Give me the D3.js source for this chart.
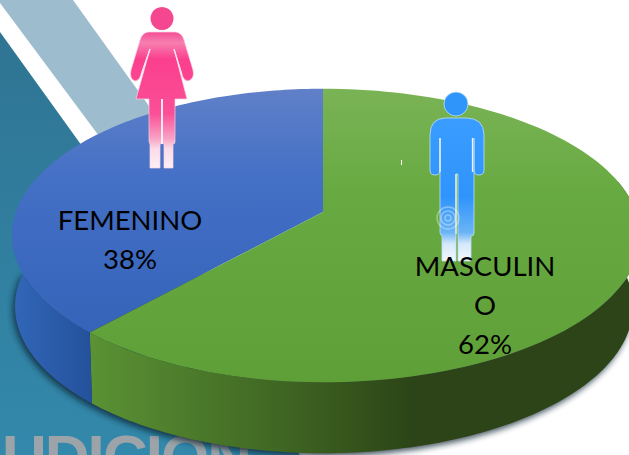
<!DOCTYPE html>
<html><head><meta charset="utf-8">
<script src="https://cdn.jsdelivr.net/npm/d3@7"></script>
<style>html,body{margin:0;padding:0;background:#fff;overflow:hidden}svg{display:block}</style>
</head><body><svg id="c" width="629" height="455"></svg>
<script>
const categories = ["FEMENINO", "MASCULINO"];
const shares = [38, 62];
const labelLines = [["FEMENINO","38%"],["MASCULIN","O","62%"]];

const svg=d3.select("#c");
const defs=svg.append("defs");
function grad(id,stops,x1,y1,x2,y2,user){
  const g=defs.append("linearGradient").attr("id",id).attr("x1",x1).attr("y1",y1).attr("x2",x2).attr("y2",y2);
  if(user) g.attr("gradientUnits","userSpaceOnUse");
  stops.forEach(s=>g.append("stop").attr("offset",s[0]).attr("stop-color",s[1]));
}
grad("bg",[[0,"#2f7493"],[1,"#3389ab"]],0,0,0,1);
grad("blueTop",[[0,"#6080c8"],[0.35,"#4470c6"],[1,"#3463b8"]],0,89,0,340,true);
grad("greenTop",[[0,"#7ab355"],[0.35,"#68aa42"],[1,"#5f9f37"]],0,89,0,382,true);
grad("blueSide",[[0,"#3166b8"],[1,"#24509a"]],15,0,95,0,true);
grad("greenSide",[[0,"#5a9234"],[0.4,"#3c6020"],[0.6,"#2c4417"],[1,"#2c4417"]],91,0,629,0,true);
grad("pink",[[0,"#f54d94"],[0.08,"#f77fb0"],[0.2,"#fb3f8e"],[0.6,"#fb4f97"],[0.78,"#f8a0c4"],[0.86,"#fbdbe8"],[1,"#fdf0f5"]],0,0,0,1);
grad("blueMan",[[0,"#3a9cff"],[0.55,"#2f94fb"],[0.8,"#6ab4f5"],[0.88,"#d4e8fb"],[1,"#f4f9fe"]],0,0,0,1);
defs.append("filter").attr("id","blur").attr("x","-10%").attr("y","-10%").attr("width","120%").attr("height","120%")
  .append("feGaussianBlur").attr("stdDeviation",3);

// Background panel: teal field, white and pale bands
svg.append("polygon").attr("points","0,0 73,0 149,106 250,455 0,455").attr("fill","#9dbccd");
svg.append("polygon").attr("points","0,3 99,136 140,200 0,200").attr("fill","#fff");
svg.append("polygon").attr("points","0,32 82,146 300,455 0,455").attr("fill","url(#bg)");
svg.append("text").attr("x",2).attr("y",478).attr("font-family","Liberation Sans")
  .attr("font-size",62).attr("font-weight",700).attr("fill","#a9a8a9").attr("opacity",0.9).attr("textLength",250).text("UDICIÓN");

// Perspective projection of a unit disc: the pie centre sits above the ellipse centre
const k=-0.16;
const project=(bl,br,a,cx,cy)=>t0=>{
  const t=t0+0.03*Math.sin(t0);
  const u=Math.sin(t),v=-Math.cos(t),d=1+k*v;
  return [cx+(u<0?bl:br)*u/d, cy+a*v/d];
};
const upper=project(307,313,143,323,212), lower=project(304,306,143,323,283);
const turn=2*Math.PI;
const pie=d3.pie().sort(null).startAngle(-turn*shares[0]/100).endAngle(turn-turn*shares[0]/100);
const slices=pie(shares);
const line=d3.line();
const along=(f,a,b)=>d3.range(0,121).map(i=>f(a+(b-a)*i/120));
const wall=(a,b)=>line(along(upper,a,b).concat(along(lower,a,b).reverse()))+"Z";

const seam=slices[0].startAngle+turn;
// shadow beneath the wall
svg.append("path").attr("d",line(along(lower,Math.PI/2-0.2,3*Math.PI/2+0.1).map(p=>[p[0]-2,p[1]+3]))+"Z")
  .attr("fill","#0a2430").attr("opacity",0.8).attr("filter","url(#blur)");
svg.append("path").attr("d",wall(Math.PI/2-0.25,seam)).attr("fill","url(#greenSide)");
svg.append("path").attr("d",wall(seam,3*Math.PI/2+0.1)).attr("fill","url(#blueSide)");

// Top faces
const fills=["url(#blueTop)","url(#greenTop)"];
slices.forEach((s,i)=>{
  svg.append("path").attr("d",line([[323,212]].concat(along(upper,s.startAngle,s.endAngle)))+"Z").attr("fill",fills[i]);
});

// Woman pictogram
svg.append("path").attr("d","M162 7a11.5 11.5 0 1 0 0.01 0Z").attr("fill","#f5478f");
svg.append("path").attr("d","M148 32H176Q182 33 184 40L193 70Q195 79 188 81Q184 81 182 75L174 49L187 99H175V142Q175 144 173 144V168H164V144Q162 144 162 142V99 142Q162 144 160 144V168H150V144Q149 143 149 140V99H136L150 49L141 75Q139 81 135 81Q129 79 131 70L140 40Q142 33 148 32Z")
  .attr("fill","url(#pink)").attr("stroke","#fbd3e3").attr("stroke-width",0.7);
svg.append("path").attr("d","M162 99V144").attr("stroke","#fff").attr("stroke-width",1.5);
svg.append("path").attr("d","M150 49L141 75M174 49L182 75").attr("stroke","#fde6ef").attr("stroke-width",1.2).attr("fill","none");

// Man pictogram
svg.append("circle").attr("cx",456).attr("cy",104).attr("r",12).attr("fill","#2f95fa").attr("stroke","#bfe0f5").attr("stroke-width",0.8);
svg.append("path").attr("d","M446 118H466Q484 118 484 135V170Q484 175 479 175Q474 175 474 170V138V233Q474 236 471 236V261H458V236V174H456V236V261H442V236Q440 235 440 232V138V170Q440 175 435 175Q430 175 430 170V135Q430 118 446 118Z")
  .attr("fill","url(#blueMan)").attr("stroke","#bfe0f5").attr("stroke-width",0.8);
svg.append("path").attr("d","M456 174V234M440 138V172M472.5 138V172").attr("stroke","#e6f3fd").attr("stroke-width",1.3).attr("fill","none");
[3,7,11].forEach(r=>svg.append("circle").attr("cx",448).attr("cy",218).attr("r",r)
  .attr("fill","none").attr("stroke","#fff").attr("stroke-opacity",0.35).attr("stroke-width",1.5));
svg.append("path").attr("d","M401.5 160V165").attr("stroke","#fff").attr("stroke-width",1);

// Labels
const labelAt=[[130,[230,269]],[485,[276,315,354]]];
labelLines.forEach((ls,i)=>ls.forEach((t,j)=>{
  svg.append("text").attr("x",labelAt[i][0]).attr("y",labelAt[i][1][j]).attr("text-anchor","middle")
    .attr("font-family","Lato").attr("font-size",27.5).attr("fill","#000").text(t);
}));
</script></body></html>
